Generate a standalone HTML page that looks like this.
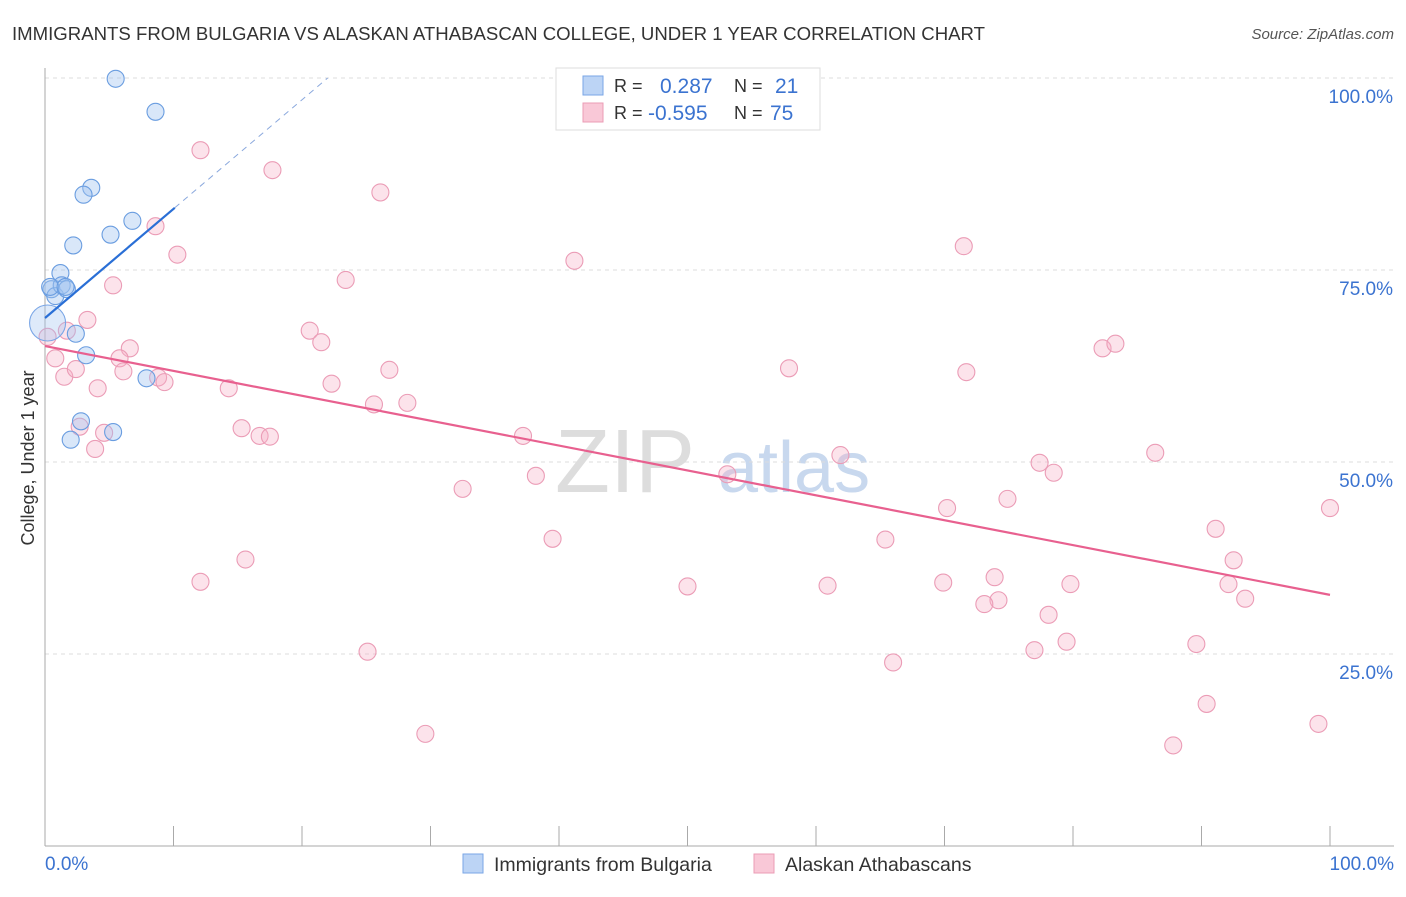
<!DOCTYPE html>
<html><head><meta charset="utf-8"><style>
body{margin:0;background:#fff;font-family:"Liberation Sans",sans-serif}
svg text{font-family:"Liberation Sans",sans-serif}
</style></head><body>
<svg id="chart" width="1406" height="892">
<text x="12" y="40" font-size="18" fill="#333" textLength="973" lengthAdjust="spacingAndGlyphs">IMMIGRANTS FROM BULGARIA VS ALASKAN ATHABASCAN COLLEGE, UNDER 1 YEAR CORRELATION CHART</text>
<text x="1394" y="39" font-size="15" fill="#555" text-anchor="end" font-style="italic">Source: ZipAtlas.com</text>
<text x="555" y="492" font-size="90" fill="#ddd" font-family="Liberation Serif">ZIP</text>
<text x="718" y="492" font-size="72" fill="#c8d8ee">atlas</text>
<g id="grid"></g><g id="axes"></g><g id="marks"></g>
<text transform="translate(34,458) rotate(-90)" font-size="18" fill="#333" text-anchor="middle">College, Under 1 year</text>
<text x="45" y="870" font-size="19" fill="#3b73d0">0.0%</text>
<text x="1394" y="870" font-size="19" fill="#3b73d0" text-anchor="end">100.0%</text>
<g>
<rect x="556" y="68" width="264" height="62" fill="#fff" stroke="#ddd"/>
<rect x="583" y="76" width="20" height="19" fill="#bcd4f5" stroke="#7aa6e6"/>
<rect x="583" y="103" width="20" height="19" fill="#f9c8d7" stroke="#eb9cb6"/>
<text x="614" y="92" font-size="18" fill="#333">R = </text><text x="660" y="93" font-size="21" fill="#3b73d0">0.287</text>
<text x="734" y="92" font-size="18" fill="#333">N = </text><text x="775" y="93" font-size="21" fill="#3b73d0">21</text>
<text x="614" y="119" font-size="18" fill="#333">R = </text><text x="648" y="120" font-size="21" fill="#3b73d0">-0.595</text>
<text x="734" y="119" font-size="18" fill="#333">N = </text><text x="770" y="120" font-size="21" fill="#3b73d0">75</text>
</g>
<g>
<rect x="463" y="854" width="20" height="19" fill="#bcd4f5" stroke="#7aa6e6"/>
<text x="494" y="871" font-size="19.5" fill="#333">Immigrants from Bulgaria</text>
<rect x="754" y="854" width="20" height="19" fill="#f9c8d7" stroke="#eb9cb6"/>
<text x="785" y="871" font-size="19.5" fill="#333">Alaskan Athabascans</text>
</g>
</svg>
<script>
const yTicks=[25,50,75,100];
const yTickLabels=["25.0%","50.0%","75.0%","100.0%"];
const xTicks=[0,10,20,30,40,50,60,70,80,90,100];
const blueX=[5.5,8.6,3.6,3.0,5.1,6.8,2.2,1.2,0.5,0.8,1.3,1.7,0.4,2.4,3.2,7.9,2.8,2.0,5.3,1.6];
const blueY=[99.9,95.6,85.7,84.8,79.6,81.4,78.2,74.6,72.5,71.6,73.0,72.5,72.8,66.7,63.9,60.9,55.3,52.9,53.9,72.8];
const blueBigX=[0.2];const blueBigY=[68.1];
const pinkX=[12.1,17.7,26.1,8.6,10.3,71.5,41.2,23.4,5.3,3.3,20.6,21.5,1.7,0.2,0.8,6.6,5.8,82.3,83.3,57.9,71.7,26.8,6.1,1.5,2.4,8.8,9.3,22.3,4.1,14.3,25.6,28.2,15.3,16.7,17.5,4.6,2.7,3.9,37.2,86.4,61.9,77.4,53.1,78.5,38.2,32.5,74.9,70.2,100,91.1,39.5,65.4,92.5,15.6,69.9,60.9,50.0,12.1,73.9,79.8,92.1,74.2,73.1,93.4,78.1,79.5,89.6,77.0,25.1,66.0,90.4,99.1,29.6,87.8];
const pinkY=[90.6,88.0,85.1,80.7,77.0,78.1,76.2,73.7,73.0,68.5,67.1,65.6,67.1,66.3,63.5,64.8,63.5,64.8,65.4,62.2,61.7,62.0,61.8,61.1,62.1,61.0,60.4,60.2,59.6,59.6,57.5,57.7,54.4,53.4,53.3,53.8,54.6,51.7,53.4,51.2,50.9,49.9,48.4,48.6,48.2,46.5,45.2,44.0,44.0,41.3,40.0,39.9,37.2,37.3,34.3,33.9,33.8,34.4,35.0,34.1,34.1,32.0,31.5,32.2,30.1,26.6,26.3,25.5,25.3,23.9,18.5,15.9,14.6,13.1];
const blueTrend=[[0,68.75],[10.1,83.1]];
const blueDash=[[10.1,83.1],[22.0,100]];
const pinkTrend=[[0,65.1],[100,32.7]];
const NS="http://www.w3.org/2000/svg";
const X=v=>45+v*12.85, Y=v=>846-v*7.68;
function mk(p,t,a){const e=document.createElementNS(NS,t);for(const k in a)e.setAttribute(k,a[k]);p.appendChild(e);return e;}
const grid=document.getElementById('grid'),axes=document.getElementById('axes'),marks=document.getElementById('marks');
yTicks.forEach((t,i)=>{
 const l=mk(grid,'line',{x1:45,x2:1394,y1:Y(t),y2:Y(t),stroke:'#ddd','stroke-dasharray':'4,4'});
 
 
 const tx=mk(grid,'text',{x:1393,y:Y(t)+25,'font-size':19,fill:'#3b73d0','text-anchor':'end'});tx.textContent=yTickLabels[i];
 
 
});
const ya=mk(axes,'line',{x1:45,x2:45,y1:68,y2:846,stroke:'#aaa'});


const xa=mk(axes,'line',{x1:45,x2:1394,y1:846,y2:846,stroke:'#aaa'});


xTicks.forEach(t=>{const l=mk(axes,'line',{x1:X(t),x2:X(t),y1:826,y2:846,stroke:'#aaa'});
 
 });
pinkX.forEach((v,i)=>{const c=mk(marks,'circle',{cx:X(v),cy:Y(pinkY[i]),r:8.5,fill:'rgba(245,175,198,0.35)',stroke:'#eb9cb6','stroke-width':1.1});
 
 });
blueBigX.forEach((v,i)=>{const c=mk(marks,'circle',{cx:X(v),cy:Y(blueBigY[i]),r:18,fill:'rgba(160,195,240,0.35)',stroke:'#7aa6e6','stroke-width':1.1});
 
 });
blueX.forEach((v,i)=>{const c=mk(marks,'circle',{cx:X(v),cy:Y(blueY[i]),r:8.5,fill:'rgba(160,195,240,0.4)',stroke:'#6a9de0','stroke-width':1.1});
 
 });
const pt=mk(marks,'line',{x1:X(pinkTrend[0][0]),y1:Y(pinkTrend[0][1]),x2:X(pinkTrend[1][0]),y2:Y(pinkTrend[1][1]),stroke:'#e8608f','stroke-width':2.2});


const bt=mk(marks,'line',{x1:X(blueTrend[0][0]),y1:Y(blueTrend[0][1]),x2:X(blueTrend[1][0]),y2:Y(blueTrend[1][1]),stroke:'#2a6fd6','stroke-width':2.2});


const bd=mk(marks,'line',{x1:X(blueDash[0][0]),y1:Y(blueDash[0][1]),x2:X(blueDash[1][0]),y2:Y(blueDash[1][1]),stroke:'#8aa8dd','stroke-width':1,'stroke-dasharray':'6,5'});


</script>
</body></html>
